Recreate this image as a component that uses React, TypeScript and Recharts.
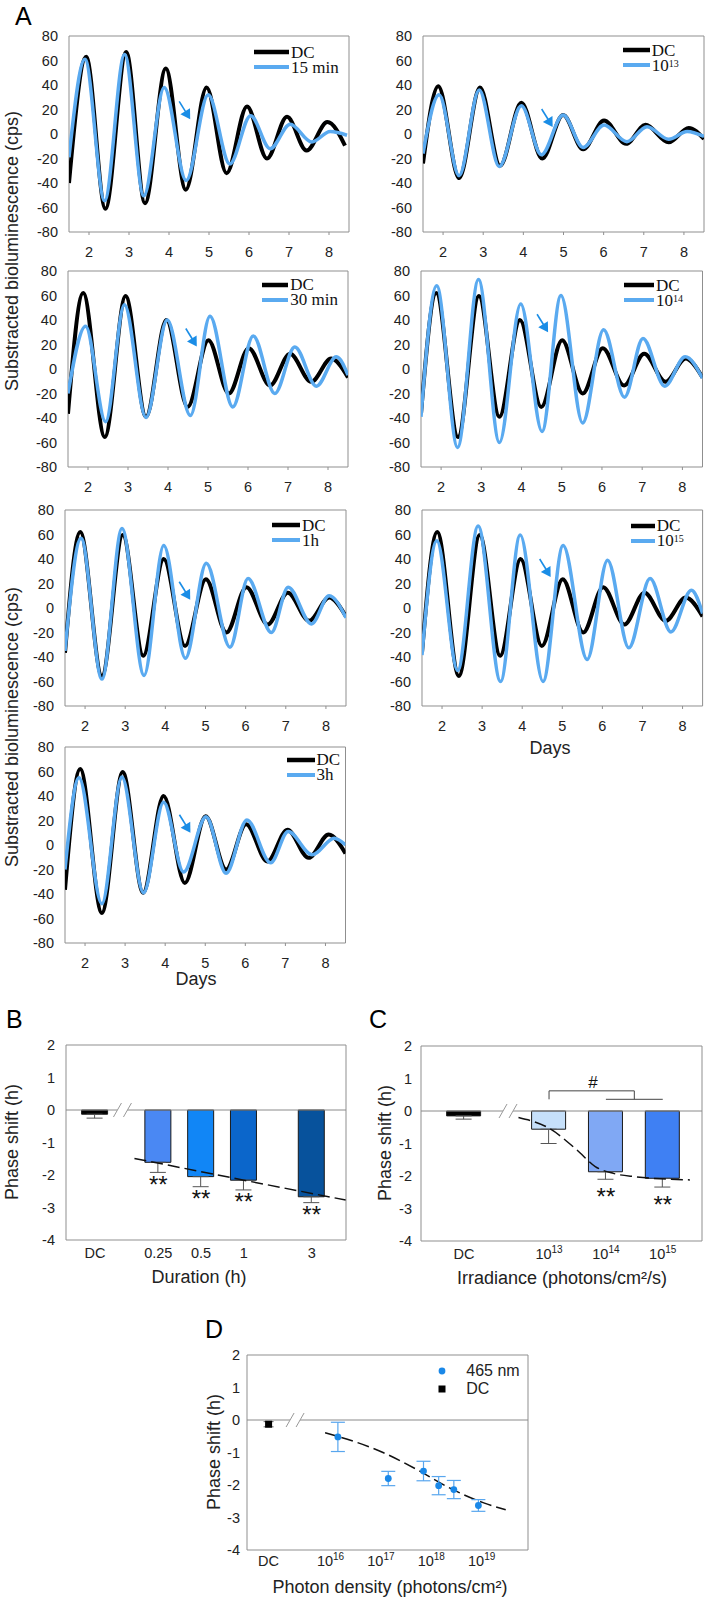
import React from "react";
import {
  ComposedChart,
  Line,
  Bar,
  Cell,
  Scatter,
  ErrorBar,
  XAxis,
  YAxis,
  ReferenceArea,
  ReferenceLine,
  ReferenceDot,
  Legend,
} from "recharts";

type Pt = [number, number];

const SANS = "'Liberation Sans', Arial, sans-serif";
const SERIF = "'Liberation Serif', 'Times New Roman', serif";
const INK = "#222";
const FRAME = "#8f8f8f";
const BLUE = "#5aaaf0";
const ARROW = "#1a8de6";

// ---------- A: bioluminescence traces (day, cps) ----------
const dayTicks = [2, 3, 4, 5, 6, 7, 8];
const cpsTicks = [-80, -60, -40, -20, 0, 20, 40, 60, 80];

const dc15: Pt[] = [[1.5, -40], [1.93, 63], [2.41, -61], [2.93, 67], [3.4, -56.5], [3.92, 53.5], [4.42, -45.5], [4.94, 38], [5.44, -32], [5.95, 22.5], [6.45, -20], [6.95, 14], [7.44, -13.5], [7.96, 9.7], [8.4, -9.5]];
const min15: Pt[] = [[1.5, -19], [1.9, 61], [2.39, -54.5], [2.89, 65], [3.37, -50.5], [3.88, 38], [4.43, -38], [4.98, 32], [5.52, -24.5], [6.04, 15], [6.53, -12], [7.03, 8], [7.57, -6.5], [8.03, 2], [8.45, -1]];

const dc13: Pt[] = [[1.5, -24], [1.88, 39], [2.4, -36], [2.92, 38], [3.42, -26], [3.95, 25.5], [4.47, -20], [4.99, 15.5], [5.49, -12.5], [6.01, 11], [6.56, -8], [7.04, 7.5], [7.62, -6.8], [8.12, 5], [8.5, -4]];
const irr13: Pt[] = [[1.5, -16], [1.9, 32], [2.4, -34], [2.9, 36], [3.4, -26.5], [3.95, 23], [4.45, -17], [4.99, 15.5], [5.49, -11], [6.01, 7.3], [6.58, -6.3], [7.08, 6], [7.62, -4.3], [8.08, 2], [8.5, -2]];

const dcMain: Pt[] = [[1.5, -36.5], [1.88, 62], [2.42, -55.5], [2.94, 59.5], [3.45, -39], [3.96, 40], [4.49, -31], [5.01, 23.5], [5.52, -20], [6.02, 17], [6.55, -13.5], [7.05, 12.5], [7.58, -10.5], [8.08, 8.5], [8.5, -7]];
const min30: Pt[] = [[1.5, -20], [1.94, 35], [2.44, -43], [2.91, 52.5], [3.45, -39.5], [3.98, 40], [4.56, -38], [5.05, 43], [5.62, -31], [6.13, 27], [6.67, -20], [7.17, 18], [7.71, -14], [8.21, 10], [8.5, -5]];
const hr1: Pt[] = [[1.5, -35], [1.9, 57], [2.42, -58], [2.92, 65], [3.47, -55], [3.96, 51], [4.5, -41], [5.02, 36.5], [5.61, -32], [6.06, 24], [6.64, -20], [7.06, 17], [7.64, -13], [8.08, 10], [8.5, -8]];
const irr14: Pt[] = [[1.5, -39], [1.89, 68], [2.41, -64], [2.93, 73], [3.45, -60], [3.98, 53], [4.51, -51], [4.98, 60], [5.52, -44], [6.04, 32], [6.56, -23], [7.02, 25], [7.56, -14], [8.07, 10], [8.5, -7.5]];
const irr15: Pt[] = [[1.5, -38.5], [1.87, 55], [2.39, -51], [2.9, 67], [3.46, -60], [3.95, 59.5], [4.52, -60], [5.02, 51], [5.62, -42], [6.13, 39], [6.66, -32.5], [7.19, 24], [7.71, -19.5], [8.22, 14.5], [8.5, -4.5]];
const hr3: Pt[] = [[1.5, -20], [1.85, 55], [2.42, -48], [2.92, 55.5], [3.46, -39], [3.96, 35], [4.46, -22], [5.02, 23], [5.52, -23], [6.04, 20.5], [6.63, -14.5], [7.07, 11], [7.67, -8], [8.22, 5.5], [8.5, 0]];

// arrow tips (day, cps) marking the pulse, in panel order
const arrowTips: Pt[] = [[4.53, 12], [4.73, 5.7], [4.72, 18.4], [4.66, 30], [4.62, 6.7], [4.71, 25.3], [4.63, 10]];

// ---------- B: duration ----------
const phaseTicks = [-4, -3, -2, -1, 0, 1, 2];
const durLabels = ["DC", "0.25", "0.5", "1", "3"];
const durHours = [0.25, 0.5, 1, 3];
const durShift = [-1.61, -2.05, -2.16, -2.67];
const durErr = [0.31, 0.31, 0.3, 0.18];
const durColors = ["#4a88f3", "#1186f6", "#0b66cb", "#07529c"];
const dcShiftB = -0.13;
const dcErrB = 0.12;
const durFit: Pt[] = [[0.17, -1.49], [1, -2.16], [5.2, -2.77]];

// ---------- C: irradiance ----------
const irrLabels: (string | [string, string])[] = ["DC", ["10", "13"], ["10", "14"], ["10", "15"]];
const irradiance = [1e13, 1e14, 1e15];
const irrShift = [-0.56, -1.87, -2.07];
const irrErr = [0.44, 0.23, 0.27];
const irrColors = ["#c6e0fa", "#80a8f4", "#3f80f3"];
const dcShiftC = -0.15;
const dcErrC = 0.1;
const irrFit: Pt[] = [[2.9e12, -0.2], [1e13, -0.53], [3.1e13, -1.2], [6.5e13, -1.71], [1.35e14, -1.92], [3.2e14, -2.02], [3e15, -2.12]];

// ---------- D: photon density ----------
const densLabels: (string | [string, string])[] = ["DC", ["10", "16"], ["10", "17"], ["10", "18"], ["10", "19"]];
const densTicks = [1e16, 1e17, 1e18, 1e19];
const density = [1.4e16, 1.4e17, 7e17, 1.4e18, 2.8e18, 8.6e18];
const densShift = [-0.52, -1.8, -1.57, -2.02, -2.14, -2.63];
const densErr = [0.45, 0.22, 0.3, 0.28, 0.28, 0.18];
const dcShiftD = -0.13;
const dcErrD = 0.08;
const densFit: Pt[] = [[7.8e15, -0.39], [1.1e17, -1.0], [5.1e17, -1.52], [2.3e18, -2.09], [1.1e19, -2.55], [3e19, -2.76]];

const rows = (pts: Pt[]) => pts.map(([x, y]) => ({ x, y }));
const tickStyle = { fontSize: 14.5, fill: INK, fontFamily: SANS };

const sup = (s: string) => <sup style={{ fontSize: 10, lineHeight: 0, verticalAlign: "4px" }}>{s}</sup>;

const oscPanels = [
  { key: "a1", left: 69, top: 36, w: 280, dc: dc15, tr: min15, name: "15 min", lgX: 185, lgLen: 35, lgY: 16 },
  { key: "a2", left: 422.7, top: 36, w: 281, dc: dc13, tr: irr13, name: <>10{sup("13")}</>, lgX: 200, lgLen: 27, lgY: 14 },
  { key: "a3", left: 68.3, top: 270.5, w: 280, dc: dcMain, tr: min30, name: "30 min", lgX: 194, lgLen: 26, lgY: 14 },
  { key: "a4", left: 421, top: 270.5, w: 281.5, dc: dcMain, tr: irr14, name: <>10{sup("14")}</>, lgX: 203, lgLen: 30, lgY: 14.5 },
  { key: "a5", left: 65, top: 510, w: 281, dc: dcMain, tr: hr1, name: "1h", lgX: 207, lgLen: 28, lgY: 15 },
  { key: "a6", left: 421.7, top: 510, w: 280.6, dc: dcMain, tr: irr15, name: <>10{sup("15")}</>, lgX: 209, lgLen: 24, lgY: 15.5 },
  { key: "a7", left: 64.5, top: 747, w: 280.5, dc: dcMain, tr: hr3, name: "3h", lgX: 222, lgLen: 28, lgY: 12.5 },
];

function Arrow({ cx, cy }: any) {
  if (cx == null || cy == null) return null;
  return (
    <g>
      <line x1={cx - 11} y1={cy - 18} x2={cx - 4.5} y2={cy - 7.5} stroke={ARROW} strokeWidth={1.6} />
      <polygon points={`${cx},${cy} ${cx - 0.2},${cy - 11} ${cx - 9.8},${cy - 5}`} fill={ARROW} />
    </g>
  );
}

function AxisBreak({ cx, cy }: any) {
  if (cx == null || cy == null) return null;
  return (
    <g>
      <polygon points={`${cx - 9},${cy + 7} ${cx - 1},${cy - 7} ${cx + 9},${cy - 7} ${cx + 1},${cy + 7}`} fill="#fff" />
      <line x1={cx - 9} y1={cy + 7} x2={cx - 1} y2={cy - 7} stroke="#999" />
      <line x1={cx + 1} y1={cy + 7} x2={cx + 9} y2={cy - 7} stroke="#999" />
    </g>
  );
}

const stars = (gap: number) => (props: any) =>
  props.cx == null ? null : (
    <text x={props.cx} y={props.cy + gap} textAnchor="middle" fontSize={24} fontFamily={SANS} fill="#111">
      **
    </text>
  );

const logTick = (labels: (string | [string, string])[]) => (props: any) => {
  const { x, y, index } = props;
  const lab = labels[index];
  return (
    <text x={x} y={y} dy="0.71em" textAnchor="middle" fontSize={14.5} fontFamily={SANS} fill={INK}>
      {Array.isArray(lab) ? (
        <>
          {lab[0]}
          <tspan dy={-6} fontSize={10}>
            {lab[1]}
          </tspan>
        </>
      ) : (
        lab
      )}
    </text>
  );
};

function TraceKey({ name, len }: { name: React.ReactNode; len: number }) {
  const row = (color: string, w: number, label: React.ReactNode) => (
    <div style={{ display: "flex", alignItems: "center", height: 15 }}>
      <svg width={len} height={6} style={{ display: "block" }}>
        <line x1={0} y1={3} x2={len} y2={3} stroke={color} strokeWidth={w} />
      </svg>
      <span style={{ marginLeft: 2, fontFamily: SERIF, fontSize: 17, lineHeight: "15px", color: "#111", whiteSpace: "nowrap" }}>
        {label}
      </span>
    </div>
  );
  return (
    <div>
      {row("#000", 4.5, "DC")}
      {row(BLUE, 4, name)}
    </div>
  );
}

function OscPanel({ p, tip }: { p: (typeof oscPanels)[number]; tip: Pt }) {
  const H = 196;
  return (
    <div style={{ position: "absolute", left: p.left - 60, top: p.top - 10 }}>
      <ComposedChart width={p.w + 64} height={H + 50} margin={{ top: 10, right: 4, bottom: 0, left: 0 }}>
        <XAxis dataKey="x" type="number" domain={[1.5, 8.5]} ticks={dayTicks} interval={0} allowDataOverflow axisLine={false} tickLine={{ stroke: FRAME }} tickSize={3} tickMargin={12} height={40} tick={tickStyle} />
        <YAxis dataKey="y" type="number" domain={[-80, 80]} ticks={cpsTicks} interval={0} allowDataOverflow axisLine={false} tickLine={false} tickMargin={5} width={60} tick={tickStyle} />
        <ReferenceArea x1={1.5} x2={8.5} y1={-80} y2={80} fill="none" fillOpacity={0} stroke={FRAME} strokeWidth={1} />
        <Line data={rows(p.dc)} dataKey="y" type="monotone" stroke="#000" strokeWidth={4} dot={false} isAnimationActive={false} />
        <Line data={rows(p.tr)} dataKey="y" type="monotone" stroke={BLUE} strokeWidth={3.5} dot={false} isAnimationActive={false} />
        <ReferenceDot x={tip[0]} y={tip[1]} r={0} shape={Arrow} />
        <Legend
          layout="horizontal"
          verticalAlign="middle"
          align="center"
          wrapperStyle={{ left: 60 + p.lgX, top: 10 + p.lgY - 7.5, width: "auto", height: "auto" }}
          content={() => <TraceKey name={p.name} len={p.lgLen} />}
        />
      </ComposedChart>
    </div>
  );
}

// B layout: log duration axis, DC slot placed left of the break
const B_DOMAIN: [number, number] = [0.0561, 5.23];
const B_DC = 0.0897;
const B_BREAK = 0.14;

function DurationPanel() {
  const bars = [
    { x: B_DC, y: dcShiftB, err: [dcErrB, 0] },
    ...durHours.map((x, i) => ({ x, y: durShift[i], err: [durErr[i], 0] })),
  ];
  const fills = ["#000", ...durColors];
  const sig = durHours.map((x, i) => ({ x, y: durShift[i] - durErr[i] }));
  return (
    <div style={{ position: "absolute", left: 6, top: 1035 }}>
      <ComposedChart data={bars} width={344} height={245} margin={{ top: 10, right: 4, bottom: 0, left: 0 }}>
        <XAxis dataKey="x" type="number" scale="log" domain={B_DOMAIN} ticks={[B_DC, ...durHours]} interval={0} allowDataOverflow axisLine={false} tickLine={false} height={40} tick={logTick(durLabels)} />
        <XAxis xAxisId="fit" hide dataKey="x" type="number" scale="log" domain={B_DOMAIN} allowDataOverflow />
        <YAxis dataKey="y" type="number" domain={[-4, 2]} ticks={phaseTicks} interval={0} allowDataOverflow axisLine={false} tickLine={false} tickMargin={5} width={60} tick={tickStyle} />
        <ReferenceArea x1={B_DOMAIN[0]} x2={B_DOMAIN[1]} y1={-4} y2={2} fill="none" fillOpacity={0} stroke={FRAME} />
        <ReferenceLine y={0} stroke="#8a8a8a" />
        <Bar dataKey="y" barSize={26} stroke="#1a1a1a" strokeWidth={1} isAnimationActive={false}>
          {bars.map((_, i) => (
            <Cell key={i} fill={fills[i]} />
          ))}
          <ErrorBar dataKey="err" direction="y" width={8} stroke="#555" strokeWidth={1} />
        </Bar>
        <Line xAxisId="fit" data={rows(durFit)} dataKey="y" type="linear" stroke="#111" strokeWidth={1.5} strokeDasharray="12 5" dot={false} isAnimationActive={false} />
        <Scatter xAxisId="fit" data={sig} dataKey="y" shape={stars(20.5)} isAnimationActive={false} />
        <ReferenceDot x={B_BREAK} y={0} r={0} shape={AxisBreak} />
      </ComposedChart>
    </div>
  );
}

const C_DOMAIN: [number, number] = [5.6e10, 4.9e15];
const C_DC = 3.2e11;
const C_BREAK = 1.9e12;

function IrradiancePanel() {
  const bars = [
    { x: C_DC, y: dcShiftC, err: [dcErrC, 0] },
    ...irradiance.map((x, i) => ({ x, y: irrShift[i], err: [irrErr[i], 0] })),
  ];
  const fills = ["#000", ...irrColors];
  const sig = irradiance.slice(1).map((x, i) => ({ x, y: irrShift[i + 1] - irrErr[i + 1] }));
  const mid = Math.sqrt(irradiance[1] * irradiance[2]);
  return (
    <div style={{ position: "absolute", left: 361, top: 1036 }}>
      <ComposedChart data={bars} width={345} height={245} margin={{ top: 10, right: 4, bottom: 0, left: 0 }}>
        <XAxis dataKey="x" type="number" scale="log" domain={C_DOMAIN} ticks={[C_DC, ...irradiance]} interval={0} allowDataOverflow axisLine={false} tickLine={false} height={40} tick={logTick(irrLabels)} />
        <XAxis xAxisId="fit" hide dataKey="x" type="number" scale="log" domain={C_DOMAIN} allowDataOverflow />
        <YAxis dataKey="y" type="number" domain={[-4, 2]} ticks={phaseTicks} interval={0} allowDataOverflow axisLine={false} tickLine={false} tickMargin={3} width={60} tick={tickStyle} />
        <ReferenceArea x1={C_DOMAIN[0]} x2={C_DOMAIN[1]} y1={-4} y2={2} fill="none" fillOpacity={0} stroke={FRAME} />
        <ReferenceLine y={0} stroke="#8a8a8a" />
        <Bar dataKey="y" barSize={34} stroke="#1a1a1a" strokeWidth={1} isAnimationActive={false}>
          {bars.map((_, i) => (
            <Cell key={i} fill={fills[i]} />
          ))}
          <ErrorBar dataKey="err" direction="y" width={8} stroke="#555" strokeWidth={1} />
        </Bar>
        <Line xAxisId="fit" data={rows(irrFit)} dataKey="y" type="monotone" stroke="#111" strokeWidth={1.5} strokeDasharray="12 5" dot={false} isAnimationActive={false} />
        <Scatter xAxisId="fit" data={sig} dataKey="y" shape={stars(25.5)} isAnimationActive={false} />
        <ReferenceDot x={C_BREAK} y={0} r={0} shape={AxisBreak} />
        <ReferenceLine segment={[{ x: irradiance[0], y: 0.36 }, { x: irradiance[0], y: 0.62 }]} stroke="#444" />
        <ReferenceLine segment={[{ x: irradiance[0], y: 0.62 }, { x: mid, y: 0.62 }]} stroke="#444" />
        <ReferenceLine segment={[{ x: mid, y: 0.62 }, { x: mid, y: 0.36 }]} stroke="#444" />
        <ReferenceLine segment={[{ x: irradiance[1], y: 0.36 }, { x: irradiance[2], y: 0.36 }]} stroke="#444" />
        <ReferenceDot
          x={5.9e13}
          y={0.91}
          r={0}
          shape={(pr: any) =>
            pr.cx == null ? null : (
              <text x={pr.cx} y={pr.cy} dy="0.36em" textAnchor="middle" fontSize={17} fontFamily={SANS} fill="#111">
                #
              </text>
            )
          }
        />
      </ComposedChart>
    </div>
  );
}

const D_DOMAIN: [number, number] = [2.2e14, 8.3e19];
const D_DC = 5.9e14;
const D_BREAK = 1.98e15;

function DensityKey() {
  const item = (marker: React.ReactNode, label: string) => (
    <div style={{ display: "flex", alignItems: "center", height: 18.3 }}>
      <svg width={10} height={10} style={{ display: "block" }}>
        {marker}
      </svg>
      <span style={{ marginLeft: 19, fontFamily: SANS, fontSize: 16, color: INK, whiteSpace: "nowrap" }}>{label}</span>
    </div>
  );
  return (
    <div>
      {item(<circle cx={5} cy={5} r={3.4} fill="#1a88e8" />, "465 nm")}
      {item(<rect x={1.5} y={1.5} width={7} height={7} fill="#000" />, "DC")}
    </div>
  );
}

function DensityPanel() {
  const pts = density.map((x, i) => ({ x, y: densShift[i], err: densErr[i] }));
  const dc = [{ x: D_DC, y: dcShiftD, err: dcErrD }];
  return (
    <div style={{ position: "absolute", left: 187, top: 1344.5 }}>
      <ComposedChart width={345} height={245} margin={{ top: 10, right: 4, bottom: 0, left: 0 }}>
        <XAxis dataKey="x" type="number" scale="log" domain={D_DOMAIN} ticks={[D_DC, ...densTicks]} interval={0} allowDataOverflow axisLine={false} tickLine={false} tickMargin={0} height={40} tick={logTick(densLabels)} />
        <YAxis dataKey="y" type="number" domain={[-4, 2]} ticks={phaseTicks} interval={0} allowDataOverflow axisLine={false} tickLine={false} tickMargin={1} width={60} tick={tickStyle} />
        <ReferenceArea x1={D_DOMAIN[0]} x2={D_DOMAIN[1]} y1={-4} y2={2} fill="none" fillOpacity={0} stroke={FRAME} />
        <ReferenceLine y={0} stroke="#8a8a8a" />
        <Line data={rows(densFit)} dataKey="y" type="monotone" stroke="#111" strokeWidth={1.5} strokeDasharray="12 5" dot={false} isAnimationActive={false} />
        <Scatter data={pts} dataKey="y" isAnimationActive={false} shape={(pr: any) => <circle cx={pr.cx} cy={pr.cy} r={3.4} fill="#1a88e8" />}>
          <ErrorBar dataKey="err" direction="y" width={7} stroke="#58a6ee" strokeWidth={1.2} />
        </Scatter>
        <Scatter data={dc} dataKey="y" isAnimationActive={false} shape={(pr: any) => <rect x={pr.cx - 3.5} y={pr.cy - 3.5} width={7} height={7} fill="#000" />}>
          <ErrorBar dataKey="err" direction="y" width={5} stroke="#666" strokeWidth={1} />
        </Scatter>
        <ReferenceDot x={D_BREAK} y={0} r={0} shape={AxisBreak} />
        <Legend layout="horizontal" verticalAlign="middle" align="center" wrapperStyle={{ left: 250.3, top: 17, width: "auto", height: "auto" }} content={() => <DensityKey />} />
      </ComposedChart>
    </div>
  );
}

function Labels() {
  const t = { fontFamily: SANS, fill: INK };
  const vlabel = (x: number, y: number, s: string) => (
    <text transform={`translate(${x},${y}) rotate(-90)`} textAnchor="middle" dominantBaseline="central" fontSize={18} {...t}>
      {s}
    </text>
  );
  const hlabel = (x: number, y: number, s: string) => (
    <text x={x} y={y} textAnchor="middle" dominantBaseline="central" fontSize={18} {...t}>
      {s}
    </text>
  );
  return (
    <svg width={708} height={1600} style={{ position: "absolute", left: 0, top: 0, pointerEvents: "none" }}>
      <text x={15} y={25} fontSize={25} {...t} fill="#000">A</text>
      <text x={6} y={1028} fontSize={25} {...t} fill="#000">B</text>
      <text x={369} y={1028} fontSize={25} {...t} fill="#000">C</text>
      <text x={205} y={1338} fontSize={25} {...t} fill="#000">D</text>
      {vlabel(12, 251, "Substracted bioluminescence (cps)")}
      {vlabel(12, 727, "Substracted bioluminescence (cps)")}
      {hlabel(550, 748, "Days")}
      {hlabel(196, 979, "Days")}
      {vlabel(12, 1142, "Phase shift (h)")}
      {vlabel(385, 1143, "Phase shift (h)")}
      {vlabel(214, 1452, "Phase shift (h)")}
      {hlabel(199, 1277, "Duration (h)")}
      {hlabel(562, 1278, "Irradiance (photons/cm²/s)")}
      {hlabel(390, 1587, "Photon density (photons/cm²)")}
    </svg>
  );
}

export default function App() {
  return (
    <div style={{ position: "absolute", left: 0, top: 0, width: 708, height: 1600, overflow: "hidden", background: "#fff", fontFamily: SANS }}>
      {oscPanels.map((p, i) => (
        <OscPanel key={p.key} p={p} tip={arrowTips[i]} />
      ))}
      <DurationPanel />
      <IrradiancePanel />
      <DensityPanel />
      <Labels />
    </div>
  );
}
